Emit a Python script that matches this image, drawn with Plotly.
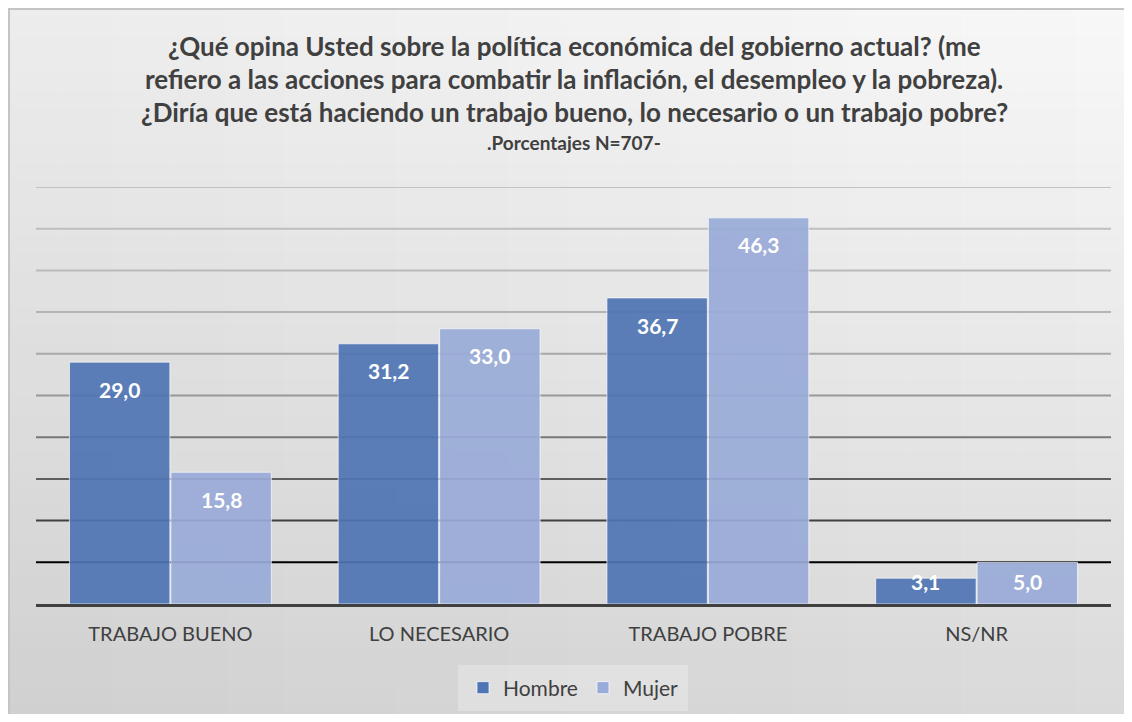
import plotly.graph_objects as go

categories = ["TRABAJO BUENO", "LO NECESARIO", "TRABAJO POBRE", "NS/NR"]
hombre = [29.0, 31.2, 36.7, 3.1]
mujer = [15.8, 33.0, 46.3, 5.0]
series_names = ["Hombre", "Mujer"]
title_lines = [
    "¿Qué opina Usted sobre la política económica del gobierno actual? (me",
    "refiero a las acciones para combatir la inflación, el desempleo y la pobreza).",
    "¿Diría que está haciendo un trabajo bueno, lo necesario o un trabajo pobre?",
]
subtitle = ".Porcentajes N=707-"

OFF = 8  # page body margin
W, H = 1132 - 2 * OFF, 722 - 2 * OFF
# plot area in viewport pixels: x 36..1111, y 187..604
ML = 36 - OFF
MR = W - (1111 - OFF)
MT = 187 - OFF
MB = H - (604 - OFF)
PW, PH = W - ML - MR, H - MT - MB
FONT = "Lato"
TXT = "#404040"
C_H = "#4F75B5"
C_M = "#99ABD8"


def px_x(vx):
    return (vx - OFF - ML) / PW


def px_y(vy):
    return (H - MB - (vy - OFF)) / PH


fig = go.Figure()
for name, vals, col in [(series_names[0], hombre, C_H), (series_names[1], mujer, C_M)]:
    fig.add_trace(go.Bar(
        name=name, x=categories, y=vals,
        marker=dict(color=col, opacity=0.92, line=dict(color="rgba(255,255,255,0.7)", width=1)),
        hoverinfo="x+y",
    ))

shapes = []
nb = 40
for i in range(nb):
    t = i / (nb - 1)
    g = int(round(248 - t * (248 - 218)))
    shapes.append(dict(type="rect", xref="paper", yref="paper", layer="below",
                       x0=px_x(0), x1=px_x(1132),
                       y0=px_y(i * 722 / nb), y1=px_y((i + 1) * 722 / nb + 1),
                       line=dict(width=0), fillcolor=f"rgb({g},{g},{g})"))
for i in range(20):
    a = 0.045 * (1 - i / 19)
    shapes.append(dict(type="rect", xref="paper", yref="paper", layer="below",
                       x0=px_x(i * 1132 / 20), x1=px_x((i + 1) * 1132 / 20),
                       y0=px_y(0), y1=px_y(722),
                       line=dict(width=0), fillcolor=f"rgba(0,0,0,{a:.4f})"))
grid_vals = [5, 10, 15, 20, 25, 30, 35, 40, 45, 50]
grid_cols = ["#000000", "#404040", "#5E5E5E", "#777777", "#989898",
             "#A8A8A8", "#B4B4B4", "#BABABA", "#BEBEBE", "#C2C2C2"]
for v, c in zip(grid_vals, grid_cols):
    shapes.append(dict(type="line", xref="paper", yref="y", layer="below",
                       x0=0, x1=1, y0=v, y1=v, line=dict(color=c, width=2)))
shapes.append(dict(type="rect", xref="paper", yref="paper", layer="below",
                   x0=px_x(458), x1=px_x(688), y0=px_y(665), y1=px_y(711),
                   line=dict(width=0), fillcolor="rgba(255,255,255,0.25)"))
shapes.append(dict(type="rect", xref="paper", yref="paper", layer="above",
                   x0=px_x(OFF + 1), x1=px_x(1132 + 5), y0=px_y(OFF + 1), y1=px_y(722 + 5),
                   line=dict(color="#C4C4C4", width=2), fillcolor="rgba(0,0,0,0)"))

annotations = []
for i, line in enumerate(title_lines):
    annotations.append(dict(text=f"<b>{line}</b>", xref="paper", yref="paper",
                            x=px_x(566 + 8), y=px_y(46 + 33 * i), showarrow=False,
                            xanchor="center", yanchor="middle",
                            font=dict(family=FONT, size=26, color=TXT)))
annotations.append(dict(text=f"<b>{subtitle}</b>", xref="paper", yref="paper",
                        x=px_x(566 + 8), y=px_y(142), showarrow=False,
                        xanchor="center", yanchor="middle",
                        font=dict(family=FONT, size=19, color=TXT)))

half = 0.18875 * PW / len(categories)
for vals, sh in [(hombre, -half), (mujer, half)]:
    for cat, v in zip(categories, vals):
        ly = max(v - 3.25, 2.7)
        annotations.append(dict(text=f"<b>{v:.1f}</b>".replace(".", ","), x=cat, y=ly,
                                xref="x", yref="y", xshift=sh, showarrow=False,
                                xanchor="center", yanchor="middle",
                                font=dict(family=FONT, size=21, color="white")))

fig.update_layout(
    width=W, height=H,
    margin=dict(l=ML, r=MR, t=MT, b=MB, autoexpand=False),
    paper_bgcolor="#E8E8E8", plot_bgcolor="rgba(0,0,0,0)",
    barmode="group", bargap=0.245, bargroupgap=0.01,
    font=dict(family=FONT, color=TXT),
    shapes=shapes, annotations=annotations,
    showlegend=True,
    legend=dict(orientation="h", x=0.5, xanchor="center", y=px_y(688), yanchor="middle",
                font=dict(family=FONT, size=21, color=TXT), bgcolor="rgba(0,0,0,0)",
                itemwidth=30, traceorder="normal"),
    xaxis=dict(showline=True, linecolor="#404040", linewidth=3, ticks="",
               tickfont=dict(family=FONT, size=20, color=TXT), showgrid=False,
               ticklabelstandoff=10, fixedrange=True),
    yaxis=dict(range=[0, 50], showgrid=False, showticklabels=False, zeroline=False,
               showline=False, fixedrange=True),
)

fig.write_html("out.html")
